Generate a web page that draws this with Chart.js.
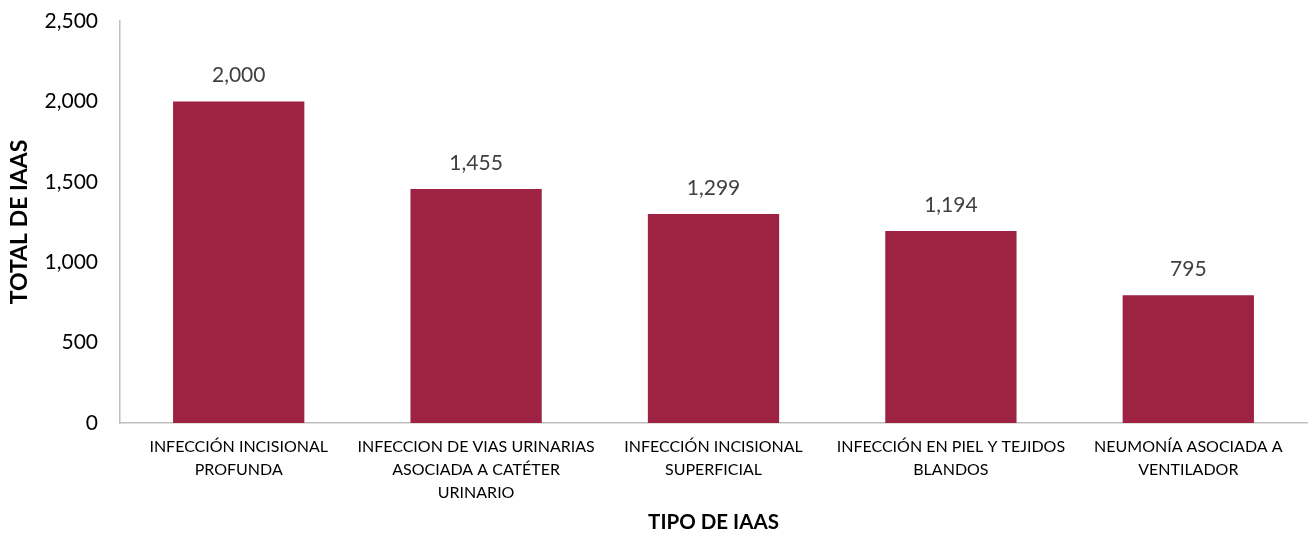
<!DOCTYPE html>
<html>
<head>
<meta charset="utf-8">
<script src="https://cdn.jsdelivr.net/npm/chart.js@4.4.1/dist/chart.umd.min.js"></script>
<style>
html,body{margin:0;padding:0;background:#fff;}
#wrap{width:1312px;height:537px;position:relative;}
</style>
</head>
<body>
<div id="wrap"><canvas id="c" width="1312" height="537"></canvas></div>
<script>
const categories = [
  ["INFECCIÓN INCISIONAL", "PROFUNDA"],
  ["INFECCION DE VIAS URINARIAS", "ASOCIADA A CATÉTER", "URINARIO"],
  ["INFECCIÓN INCISIONAL", "SUPERFICIAL"],
  ["INFECCIÓN EN PIEL Y TEJIDOS", "BLANDOS"],
  ["NEUMONÍA ASOCIADA A", "VENTILADOR"]
];
const totals = [2000, 1455, 1299, 1194, 795];
const yTicks = [0, 500, 1000, 1500, 2000, 2500];
const xTitle = "TIPO DE IAAS";
const yTitle = "TOTAL DE IAAS";

const FONT = "Lato, 'Open Sans', sans-serif";
const fmt = v => v.toLocaleString('en-US');

const valueLabels = {
  id: 'valueLabels',
  afterDatasetsDraw(chart) {
    const ctx = chart.ctx;
    const meta = chart.getDatasetMeta(0);
    ctx.save();
    ctx.font = "21px " + FONT;
    ctx.fillStyle = "#404040";
    ctx.textAlign = "center";
    ctx.textBaseline = "middle";
    meta.data.forEach((el, i) => {
      ctx.fillText(fmt(chart.data.datasets[0].data[i]), el.x, el.y - 26);
    });
    ctx.restore();
  }
};

new Chart(document.getElementById('c'), {
  type: 'bar',
  data: {
    labels: categories,
    datasets: [{
      data: totals,
      backgroundColor: '#9E2241',
      borderWidth: 0,
      categoryPercentage: 1.0,
      barPercentage: 0.553
    }]
  },
  options: {
    responsive: false,
    animation: false,
    devicePixelRatio: 1,
    layout: { padding: { top: 21, right: 5, left: 0, bottom: 0 } },
    plugins: { legend: { display: false }, tooltip: { enabled: false } },
    scales: {
      y: {
        min: 0, max: 2500,
        afterBuildTicks: s => { s.ticks = yTicks.map(v => ({ value: v })); },
        afterFit: s => { s.width = 120; s.paddingTop = 0; s.paddingBottom = 0; },
        border: { display: true, color: '#BFBFBF', width: 1.5 },
        grid: { display: false, drawTicks: false },
        ticks: {
          padding: 22,
          color: '#000',
          font: { family: FONT, size: 21 },
          callback: v => fmt(v)
        },
        title: {
          display: true, text: yTitle, color: '#000',
          font: { family: FONT, size: 23, weight: 'bold' },
          padding: { top: 6, bottom: 0 }
        }
      },
      x: {
        afterFit: s => { s.height = 537 - 423; },
        border: { display: true, color: '#BFBFBF', width: 1.5 },
        grid: { display: false, drawTicks: false },
        ticks: {
          padding: 12,
          color: '#000',
          maxRotation: 0,
          autoSkip: false,
          font: { family: FONT, size: 16, lineHeight: 1.45 }
        },
        title: {
          display: true, text: xTitle, color: '#000',
          font: { family: FONT, size: 20.5, weight: 'bold' },
          padding: { top: 0, bottom: 2 }
        }
      }
    }
  },
  plugins: [valueLabels]
});
</script>
</body>
</html>
